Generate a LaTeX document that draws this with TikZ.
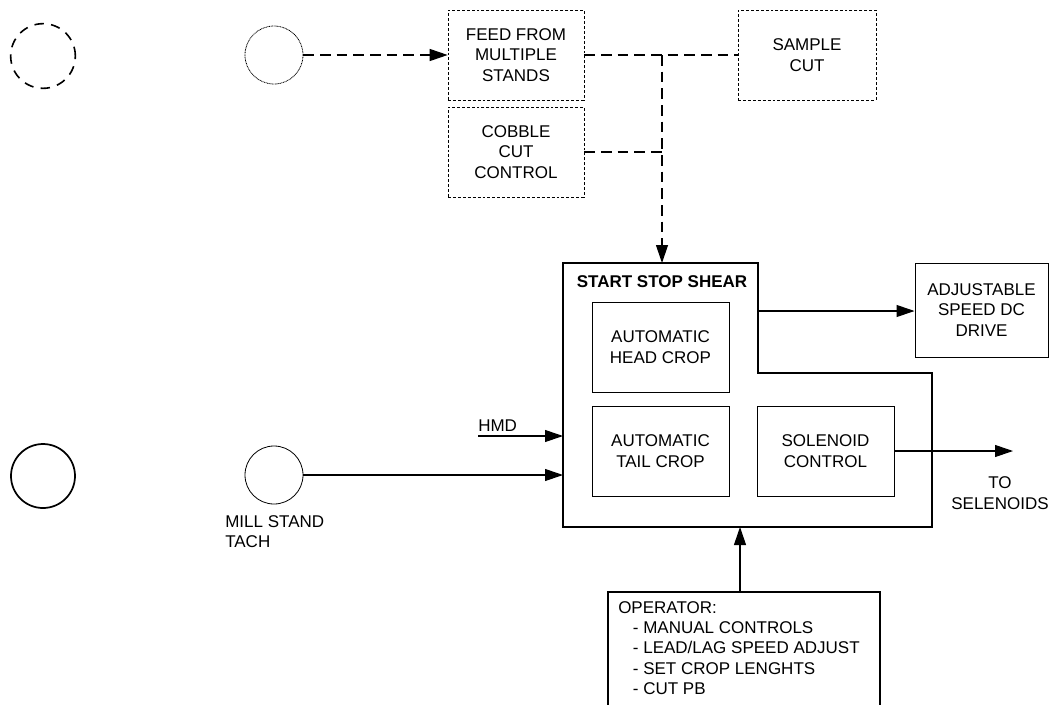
\documentclass[tikz,border=0pt]{standalone}
\usepackage{fontspec}
\setmainfont{Liberation Sans}
\usetikzlibrary{arrows.meta}
\tikzset{
  txt/.style={font=\fontsize{12.75pt}{15.3pt}\selectfont, align=center},
  solidbox/.style={draw, line width=0.75pt, txt, inner sep=0pt},
  dashbox/.style={draw, dash pattern=on 2.2pt off 1.5pt, line width=0.5pt, txt, inner sep=0pt},
  conn/.style={line width=0.8pt},
  dconn/.style={line width=0.9pt, dash pattern=on 8pt off 4.5pt},
  tip/.style={-{Triangle[length=13.5pt,width=9pt]}},
}
\begin{document}
\begin{tikzpicture}[x=0.75pt,y=-0.75pt]
\useasboundingbox (0,0) rectangle (1061,704);
% circles
\node[circle, draw, line width=1.2pt, dash pattern=on 7pt off 5.5pt, minimum size=48.5pt, inner sep=0] (c1) at (43,56) {};
\node[circle, draw, line width=0.6pt, dash pattern=on 0.7pt off 0.5pt, minimum size=43.5pt, inner sep=0] (c2) at (274,55) {};
\node[circle, draw, line width=1.3pt, minimum size=48pt, inner sep=0] (c3) at (43,476) {};
\node[circle, draw, line width=0.6pt, minimum size=43.5pt, inner sep=0] (tach) at (274,475) {};
\node[txt, align=left, anchor=north west, inner sep=0] (tachlbl) at (225,515) {MILL STAND\\TACH};
% dashed boxes
\node[dashbox, minimum width=102pt, minimum height=67.5pt] (feed) at (516,55) {FEED FROM\\MULTIPLE\\STANDS};
\node[dashbox, minimum width=102pt, minimum height=67.5pt] (cobble) at (516,152) {COBBLE\\CUT\\CONTROL};
\node[dashbox, minimum width=103.5pt, minimum height=67.5pt] (sample) at (807,55) {SAMPLE\\CUT};
% shear outline
\draw[line width=0.8pt] (563,263) -- (758,263) -- (758,373) -- (932,373) -- (932,527) -- (563,527) -- cycle;
\node[font=\bfseries\fontsize{12.75pt}{15.3pt}\selectfont, inner sep=0] (shear) at (662,282) {START STOP SHEAR};
\coordinate (shtop) at (662,263);
\coordinate (shright) at (758,311);
\coordinate (shhmd) at (563,436);
\coordinate (shtach) at (563,475);
\coordinate (shbot) at (740,527);
% inner boxes
\node[solidbox, line width=0.6pt, minimum width=102.75pt, minimum height=67.5pt] (head) at (660.5,347) {AUTOMATIC\\HEAD CROP};
\node[solidbox, line width=0.6pt, minimum width=102.75pt, minimum height=67.5pt] (tail) at (660.5,451) {AUTOMATIC\\TAIL CROP};
\node[solidbox, line width=0.6pt, minimum width=102.75pt, minimum height=67.5pt] (sol) at (825.5,451) {SOLENOID\\CONTROL};
\node[solidbox, minimum width=99.75pt, minimum height=70.5pt] (adj) at (981.5,310) {ADJUSTABLE\\SPEED DC\\DRIVE};
% operator
\draw[line width=0.8pt] (608,706) -- (608,592) -- (880,592) -- (880,706);
\node[txt, align=left, anchor=north west, inner sep=0] (op) at (618,601) {OPERATOR:\\\hspace*{11pt}- MANUAL CONTROLS\\\hspace*{11pt}- LEAD/LAG SPEED ADJUST\\\hspace*{11pt}- SET CROP LENGHTS\\\hspace*{11pt}- CUT PB};
\coordinate (optop) at (740,592);
% dashed connectors
\draw[dconn, tip] (c2.east) -- (feed.west);
\draw[dconn] (feed.east) -- (sample.west);
\coordinate (junc) at (662,55);
\coordinate (cjunc) at (662,152);
\draw[dconn] (cobble.east) -- (cjunc);
\draw[dconn, tip] (junc) -- (shtop);
% solid connectors
\draw[conn, tip] (shright) -- (shright -| adj.west);
\coordinate (hmdstart) at (478,436);
\node[txt, anchor=south west, inner sep=0] (hmd) at (478,432) {HMD};
\draw[conn, tip] (hmdstart) -- (shhmd);
\draw[conn, tip] (tach.east) -- (shtach);
\coordinate (tosel) at (1013,451);
\draw[conn, tip] (sol.east) -- (tosel);
\node[txt, inner sep=0] (tosellbl) at (1000,493) {TO\\SELENOIDS};
\draw[conn, tip] (optop) -- (shbot);
\end{tikzpicture}
\end{document}
